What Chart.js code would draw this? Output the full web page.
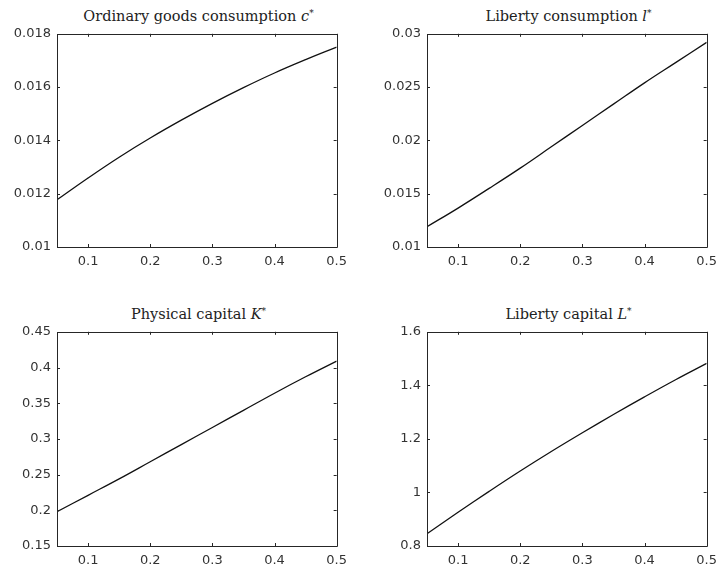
<!DOCTYPE html>
<html>
<head>
<meta charset="utf-8">
<script src="https://cdn.jsdelivr.net/npm/chart.js@4.4.1/dist/chart.umd.min.js"></script>
<style>
    body {
        margin: 0;
        background: #ffffff;
    }
    #page {
        position: relative;
        width: 719px;
        height: 571px;
        background: #ffffff;
        overflow: hidden;
    }
    .box {
        position: absolute;
    }
    .title {
        position: absolute;
        text-align: center;
        font-family: "DejaVu Serif", serif;
        font-size: 14.5px;
        line-height: 16px;
        color: #222222;
        white-space: nowrap;
    }
    .title sup {
        font-size: 9px;
        vertical-align: 5px;
        line-height: 0;
    }
</style>
</head>
<body>
<div id="page">
    <div class="title" style="left:59px; top:8px; width:279px;">Ordinary goods consumption <i>c</i><sup>*</sup></div>
    <div class="title" style="left:429px; top:8px; width:279px;">Liberty consumption <i>l</i><sup>*</sup></div>
    <div class="title" style="left:59px; top:306px; width:279px;">Physical capital <i>K</i><sup>*</sup></div>
    <div class="title" style="left:429px; top:306px; width:279px;">Liberty capital <i>L</i><sup>*</sup></div>

    <div class="box" style="left:0px; top:20px; width:354px; height:252px;"><canvas id="cChart"></canvas></div>
    <div class="box" style="left:370px; top:20px; width:354px; height:252px;"><canvas id="lChart"></canvas></div>
    <div class="box" style="left:0px; top:318px; width:354px; height:253px;"><canvas id="kChart"></canvas></div>
    <div class="box" style="left:370px; top:318px; width:354px; height:253px;"><canvas id="bigLChart"></canvas></div>
</div>

<script>
// ==========================
// DATA
// ==========================

const xs = [0.05, 0.1, 0.15, 0.2, 0.25, 0.3, 0.35, 0.4, 0.45, 0.5];

const cStar = [0.01177, 0.01259, 0.01337, 0.01409, 0.01476, 0.01539, 0.01598, 0.01653, 0.01703, 0.0175];
const lStar = [0.0119, 0.01365, 0.0155, 0.0174, 0.0194, 0.0214, 0.0234, 0.0254, 0.0273, 0.0292];
const kStar = [0.198, 0.221, 0.244, 0.268, 0.292, 0.316, 0.340, 0.364, 0.387, 0.409];
const bigLStar = [0.846, 0.926, 1.004, 1.080, 1.153, 1.223, 1.291, 1.357, 1.421, 1.482];

const xTicks = [0.1, 0.2, 0.3, 0.4, 0.5];
const cTicks = [0.01, 0.012, 0.014, 0.016, 0.018];
const lTicks = [0.01, 0.015, 0.02, 0.025, 0.03];
const kTicks = [0.15, 0.2, 0.25, 0.3, 0.35, 0.4, 0.45];
const bigLTicks = [0.8, 1, 1.2, 1.4, 1.6];

// ==========================
// BOX + INWARD TICKS
// ==========================

const boxPlugin = {
    id: "matlabBox",
    afterDraw(chart) {
        const ctx = chart.ctx;
        const a = chart.chartArea;
        const xs = chart.scales.x;
        const ys = chart.scales.y;
        const len = 3;

        ctx.save();
        ctx.strokeStyle = "#262626";
        ctx.lineWidth = 1;

        ctx.beginPath();
        ctx.rect(
            Math.round(a.left) + 0.5,
            Math.round(a.top) + 0.5,
            Math.round(a.right - a.left),
            Math.round(a.bottom - a.top)
        );
        ctx.stroke();

        ctx.beginPath();
        xs.ticks.forEach(t => {
            let px = Math.round(xs.getPixelForValue(t.value)) + 0.5;
            ctx.moveTo(px, a.bottom);
            ctx.lineTo(px, a.bottom - len);
            ctx.moveTo(px, a.top);
            ctx.lineTo(px, a.top + len);
        });
        ys.ticks.forEach(t => {
            let py = Math.round(ys.getPixelForValue(t.value)) + 0.5;
            ctx.moveTo(a.left, py);
            ctx.lineTo(a.left + len, py);
            ctx.moveTo(a.right, py);
            ctx.lineTo(a.right - len, py);
        });
        ctx.stroke();
        ctx.restore();
    }
};

// ==========================
// MAKE ONE PANEL
// ==========================

function makePanel(canvasId, values, yTicks) {

    const points = xs.map((x, i) => ({ x: x, y: values[i] }));

    new Chart(document.getElementById(canvasId), {
        type: "line",
        data: {
            datasets: [{
                data: points,
                borderColor: "#111111",
                borderWidth: 1.3,
                pointRadius: 0,
                fill: false,
                tension: 0.4
            }]
        },
        options: {
            responsive: true,
            maintainAspectRatio: false,
            animation: false,
            layout: {
                padding: { left: 0, right: 2, top: 12, bottom: 0 }
            },
            plugins: {
                legend: { display: false },
                tooltip: { enabled: false }
            },
            scales: {
                x: {
                    type: "linear",
                    min: 0.05,
                    max: 0.5,
                    afterBuildTicks: scale => {
                        scale.ticks = xTicks.map(v => ({ value: v }));
                    },
                    afterFit: scale => {
                        scale.height = 25;
                    },
                    grid: { display: false, drawTicks: false },
                    border: { display: false },
                    ticks: {
                        padding: 7,
                        maxRotation: 0,
                        color: "#333333",
                        font: { family: "DejaVu Sans", size: 13 },
                        callback: v => String(parseFloat(v.toFixed(6)))
                    }
                },
                y: {
                    type: "linear",
                    min: yTicks[0],
                    max: yTicks[yTicks.length - 1],
                    afterBuildTicks: scale => {
                        scale.ticks = yTicks.map(v => ({ value: v }));
                    },
                    afterFit: scale => {
                        scale.width = 57;
                    },
                    grid: { display: false, drawTicks: false },
                    border: { display: false },
                    ticks: {
                        padding: 6,
                        color: "#333333",
                        font: { family: "DejaVu Sans", size: 13 },
                        callback: v => String(parseFloat(v.toFixed(6)))
                    }
                }
            }
        },
        plugins: [boxPlugin]
    });
}

makePanel("cChart", cStar, cTicks);
makePanel("lChart", lStar, lTicks);
makePanel("kChart", kStar, kTicks);
makePanel("bigLChart", bigLStar, bigLTicks);
</script>
</body>
</html>
